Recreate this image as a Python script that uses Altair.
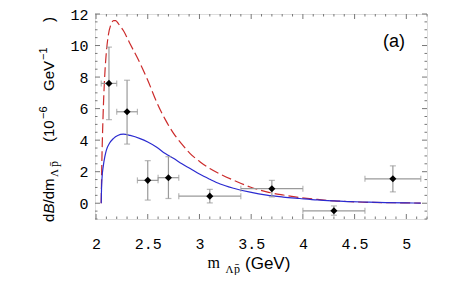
import altair as alt
import pandas as pd

# ---- data ----
red_x = [2.050, 2.055, 2.062, 2.072, 2.085, 2.100, 2.120, 2.145, 2.170, 2.190, 2.220, 2.264,
         2.330, 2.426, 2.500, 2.587, 2.670, 2.748, 2.830, 2.910, 3.007, 3.100, 3.200, 3.330,
         3.490, 3.650, 3.810, 3.970, 4.140, 4.300, 4.460, 4.620, 4.800, 5.000, 5.140]
red_y = [0.0, 2.2, 4.2, 6.3, 8.2, 9.6, 10.7, 11.35, 11.58, 11.58, 11.35, 10.95,
         10.1, 8.87, 7.8, 6.4, 5.3, 4.45, 3.75, 3.15, 2.62, 2.2, 1.85, 1.46,
         1.03, 0.72, 0.52, 0.36, 0.24, 0.15, 0.10, 0.06, 0.04, 0.02, 0.01]

blue_x = [2.050, 2.053, 2.058, 2.070, 2.085, 2.100, 2.130, 2.167, 2.210, 2.264, 2.330, 2.426,
          2.500, 2.587, 2.670, 2.748, 2.830, 2.910, 3.000, 3.100, 3.200, 3.330, 3.490, 3.650,
          3.810, 3.970, 4.140, 4.300, 4.460, 4.620, 4.800, 5.000, 5.140]
blue_y = [0.0, 0.9, 1.6, 2.35, 2.95, 3.37, 3.8, 4.1, 4.3, 4.38, 4.3, 4.1,
          3.88, 3.55, 3.15, 2.85, 2.5, 2.2, 1.85, 1.52, 1.22, 0.95, 0.70, 0.51,
          0.39, 0.30, 0.21, 0.15, 0.10, 0.07, 0.04, 0.02, 0.01]

pt_x = [2.125, 2.30, 2.50, 2.70, 3.10, 3.70, 4.30, 4.87]
pt_y = [7.6, 5.8, 1.45, 1.62, 0.45, 0.92, -0.48, 1.55]
pt_ylo = [5.3, 3.75, 0.2, 0.3, 0.02, 0.4, -0.76, 0.72]
pt_yhi = [9.9, 7.8, 2.7, 2.95, 0.88, 1.45, -0.17, 2.37]
pt_xlo = [2.05, 2.2, 2.4, 2.6, 2.8, 3.4, 4.0, 4.6]
pt_xhi = [2.2, 2.4, 2.6, 2.8, 3.4, 4.0, 4.6, 5.14]

x_major = [2, 2.5, 3, 3.5, 4, 4.5, 5]
y_major = [0, 2, 4, 6, 8, 10, 12]
x_minor = [round(2 + 0.1 * i, 2) for i in range(33) if round(2 + 0.1 * i, 2) not in x_major]
y_minor = [v / 2 for v in range(-2, 25) if v / 2 not in y_major]

W, H = 332, 205
xs = alt.Scale(domain=[1.99, 5.2], nice=False, zero=False)
ys = alt.Scale(domain=[-1, 12], nice=False, zero=False)

red = pd.DataFrame({"x": red_x, "y": red_y})
blue = pd.DataFrame({"x": blue_x, "y": blue_y})
pts = pd.DataFrame({"x": pt_x, "y": pt_y, "ylo": pt_ylo, "yhi": pt_yhi,
                    "xlo": pt_xlo, "xhi": pt_xhi})


def xaxis():
    return alt.Axis(values=x_major, format="~g", title=None, domain=False, ticks=False,
                    grid=False, labelFont="Liberation Mono", labelFontSize=15,
                    labelColor="black", labelPadding=17)


def yaxis():
    return alt.Axis(values=y_major, format="~g", title=None, domain=False, ticks=False,
                    grid=False, labelFont="Liberation Mono", labelFontSize=15,
                    labelColor="black", labelPadding=7)


def X(f):
    return alt.X(f, type="quantitative", scale=xs, axis=xaxis())


def Y(f):
    return alt.Y(f, type="quantitative", scale=ys, axis=yaxis())


red_line = alt.Chart(red).mark_line(color="#cc2b2b", strokeWidth=1.2, strokeDash=[10, 4],
                                    interpolate="monotone").encode(x=X("x"), y=Y("y"))
blue_line = alt.Chart(blue).mark_line(color="#2b2bd0", strokeWidth=1.2,
                                      interpolate="monotone").encode(x=X("x"), y=Y("y"))

ebar_col = "#9a9a9a"
vbar = alt.Chart(pts).mark_rule(color=ebar_col, strokeWidth=1.2).encode(
    x=X("x"), y=Y("ylo"), y2="yhi:Q")
hbar = alt.Chart(pts).mark_rule(color=ebar_col, strokeWidth=1.2).encode(
    x=X("xlo"), x2="xhi:Q", y=Y("y"))
cap_lo = alt.Chart(pts).mark_tick(color=ebar_col, orient="horizontal", size=6, thickness=1.2).encode(
    x=X("x"), y=Y("ylo"))
cap_hi = alt.Chart(pts).mark_tick(color=ebar_col, orient="horizontal", size=6, thickness=1.2).encode(
    x=X("x"), y=Y("yhi"))
cap_l = alt.Chart(pts).mark_tick(color=ebar_col, orient="vertical", size=6, thickness=1.2).encode(
    x=X("xlo"), y=Y("y"))
cap_r = alt.Chart(pts).mark_tick(color=ebar_col, orient="vertical", size=6, thickness=1.2).encode(
    x=X("xhi"), y=Y("y"))
dots = alt.Chart(pts).mark_point(shape="diamond", filled=True, color="black", size=50,
                                 opacity=1).encode(x=X("x"), y=Y("y"))

tick_col = "#777777"


def xticks(vals, length):
    d = pd.DataFrame({"v": vals})
    b = alt.Chart(d).mark_rule(color=tick_col, strokeWidth=1).encode(
        x=X("v"), y=alt.value(H), y2=alt.value(H - length))
    t = alt.Chart(d).mark_rule(color=tick_col, strokeWidth=1).encode(
        x=X("v"), y=alt.value(0), y2=alt.value(length))
    return [b, t]


def yticks(vals, length):
    d = pd.DataFrame({"v": vals})
    l = alt.Chart(d).mark_rule(color=tick_col, strokeWidth=1).encode(
        y=Y("v"), x=alt.value(0), x2=alt.value(length))
    r = alt.Chart(d).mark_rule(color=tick_col, strokeWidth=1).encode(
        y=Y("v"), x=alt.value(W), x2=alt.value(W - length))
    return [l, r]


one = pd.DataFrame({"a": [0]})


def txt(s, x, y, size, font="Liberation Sans", angle=0, style="normal"):
    kw = dict(text=s, font=font, fontSize=size, align="left", baseline="alphabetic",
              color="black", fontStyle=style)
    if angle:
        kw["angle"] = angle
    return alt.Chart(one).mark_text(**kw).encode(x=alt.value(x), y=alt.value(y))


labels = [
    # x title
    txt("m", 112.5, 254, 16, "Liberation Serif"),
    txt("Λ", 130.5, 258.5, 11, "Liberation Serif"),
    txt("p\u0304", 139, 258.5, 12, "Liberation Serif"),
    txt("(GeV)", 150, 254.5, 17),
    # y title (rotated)
    txt("d", -41, 208, 15, angle=270),
    txt("B", -41, 199.5, 15, angle=270, style="italic"),
    txt("/dm", -41, 189.5, 15, angle=270),
    txt("Λ", -37, 163, 11, "Liberation Serif", angle=270),
    txt("p\u0304", -37, 153, 12, "Liberation Serif", angle=270),
    txt("(10", -41, 128, 15, angle=270),
    txt("\u22126", -48, 105, 11, angle=270),
    txt("GeV", -41, 77, 15, angle=270),
    txt("\u22121", -48, 46, 11, angle=270),
    txt(")", -41, 8, 15, angle=270),
    # panel label
    txt("(a)", 288, 33, 18),
]

chart = alt.layer(
    red_line, blue_line,
    *xticks(x_major, 5), *xticks(x_minor, 2.5), *yticks(y_major, 5), *yticks(y_minor, 2.5),
    vbar, hbar, cap_lo, cap_hi, cap_l, cap_r, dots,
    *labels
).properties(
    width=W, height=H,
    autosize=alt.AutoSizeParams(type="none"),
    padding={"left": 87, "top": 6, "right": 20, "bottom": 56},
).configure_view(stroke="#888888", strokeWidth=1).configure(background="white")

chart.save("out.html", embed_options={"renderer": "svg", "actions": False})
